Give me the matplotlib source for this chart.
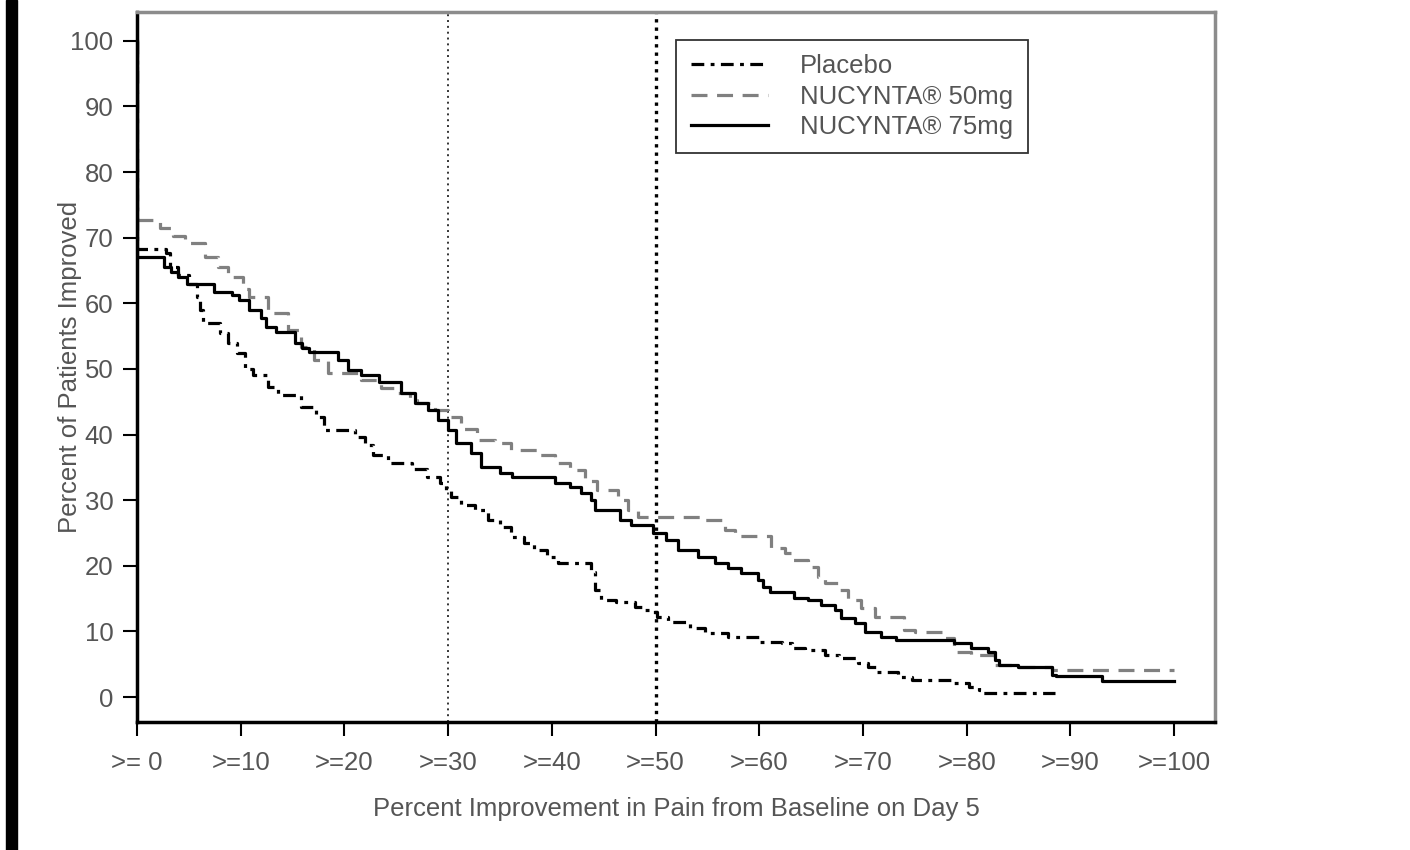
import matplotlib
matplotlib.use("Agg")
import matplotlib.pyplot as plt
from matplotlib.patches import Rectangle

plt.rcParams['font.family'] = ['Liberation Sans', 'DejaVu Sans']

# step curves: x where the value starts, value from there on
placebo_x = [0, 0, 2.8, 3.2, 4.0, 5.0, 5.8, 6.1, 6.4, 8.0, 8.8, 9.6, 10.4, 11.2, 12.6, 13.6,
             15.8, 17.3, 18.0, 21.0, 22.0, 22.8, 24.2, 26.5, 28.0, 29.2, 29.8, 30.3, 31.2,
             32.6, 33.8, 35.0, 36.1, 37.3, 38.3, 39.5, 40.6, 43.8, 44.2, 44.7, 46.2, 48.0,
             49.0, 49.8, 50.1, 51.2, 53.3, 54.8, 57.0, 60.0, 62.2, 63.2, 64.4, 66.3, 67.7,
             69.5, 70.5, 71.4, 73.4, 74.7, 78.5, 80.2, 81.2, 81.6, 88.5]
placebo_y = [100, 68.3, 67.6, 65.5, 64.3, 63.0, 61.0, 59.0, 57.0, 55.5, 54.0, 52.4, 50.0, 49.1,
             47.3, 46.0, 44.2, 42.7, 40.7, 39.6, 38.4, 36.9, 35.7, 34.8, 33.5, 32.6, 31.5,
             30.5, 29.3, 28.5, 27.0, 25.9, 24.4, 23.5, 22.4, 21.3, 20.4, 19.1, 16.3, 14.8,
             14.5, 13.7, 13.3, 13.0, 12.2, 11.4, 10.5, 9.8, 9.1, 8.4, 8.2, 7.5, 7.2, 6.4,
             5.9, 5.2, 4.6, 3.8, 3.0, 2.6, 2.1, 1.5, 1.1, 0.6, 0.6]

mg50_x = [0, 0, 2.2, 3.5, 4.6, 6.6, 7.8, 8.8, 10.2, 10.8, 12.6, 14.6, 15.8, 17.1, 18.4, 21.6,
          23.5, 24.8, 26.3, 27.0, 28.7, 30.0, 31.2, 32.8, 34.5, 36.1, 38.7, 40.3, 41.8, 43.2,
          44.4, 46.4, 47.3, 48.3, 54.5, 56.7, 57.7, 61.1, 62.5, 63.1, 64.7, 65.7, 66.3, 67.6,
          68.6, 69.8, 71.2, 74.0, 75.0, 77.8, 78.8, 80.4, 82.6, 85.0, 88.2, 100]
mg50_y = [100, 72.7, 71.5, 70.3, 69.2, 67.0, 65.5, 64.0, 62.2, 61.0, 58.5, 56.0, 53.4, 51.4,
          49.4, 48.3, 47.1, 46.3, 45.3, 44.8, 43.7, 42.7, 40.8, 39.2, 38.7, 37.7, 36.9, 35.7,
          34.6, 33.0, 31.6, 30.0, 28.5, 27.5, 27.0, 25.5, 24.6, 22.7, 21.9, 20.9, 19.8, 18.3,
          17.4, 16.3, 14.8, 13.5, 12.2, 10.2, 9.9, 9.0, 6.9, 6.4, 4.9, 4.6, 4.1, 4.1]

mg75_x = [0, 0, 2.6, 3.3, 4.0, 4.8, 7.4, 9.2, 9.8, 10.8, 12.0, 12.4, 13.4, 15.2, 15.9, 16.6,
          19.4, 20.3, 21.6, 23.3, 25.5, 26.8, 28.1, 29.0, 30.0, 30.8, 32.2, 33.2, 35.0, 36.2,
          40.3, 41.8, 42.8, 43.8, 44.2, 46.6, 47.6, 49.8, 51.0, 52.2, 54.1, 55.7, 57.0, 58.2,
          59.9, 60.4, 61.0, 63.4, 64.7, 66.0, 67.3, 67.9, 69.2, 70.2, 71.7, 73.2, 78.8, 80.4,
          82.1, 82.7, 83.1, 85.0, 88.2, 88.6, 93.1, 100]
mg75_y = [100, 67.0, 65.5, 64.8, 64.0, 63.0, 61.8, 61.3, 60.5, 59.0, 57.8, 56.4, 55.6, 54.0,
          53.2, 52.6, 51.4, 49.8, 49.1, 48.0, 46.3, 44.8, 43.7, 42.2, 40.7, 38.7, 37.2, 35.1,
          34.1, 33.5, 32.6, 32.0, 31.1, 30.0, 28.5, 27.0, 26.2, 25.0, 23.9, 22.4, 21.3, 20.4,
          19.7, 18.9, 17.8, 16.8, 16.0, 15.1, 14.8, 14.0, 13.3, 12.0, 11.3, 9.9, 9.1, 8.7,
          8.2, 7.5, 6.9, 5.6, 4.9, 4.6, 3.4, 3.2, 2.5, 2.5]

x_ticks = [0, 10, 20, 30, 40, 50, 60, 70, 80, 90, 100]
x_tick_labels = ['>= 0', '>=10', '>=20', '>=30', '>=40', '>=50', '>=60', '>=70', '>=80',
                 '>=90', '>=100']
y_ticks = [0, 10, 20, 30, 40, 50, 60, 70, 80, 90, 100]
ref_lines = [30, 50]

fs = 18.5

fig = plt.figure(figsize=(14.1, 8.5), dpi=100)
ax = fig.add_axes([137/1410, 1 - 722/850, (1215-137)/1410, (722-12)/850])

# black strip on the left edge of the picture
fig.patches.append(Rectangle((6/1410, 0), 11/1410, 1, transform=fig.transFigure,
                             color='black', zorder=0))

ax.axvline(ref_lines[0], color='#333333', linestyle=(0, (1, 2)), linewidth=1.4)
ax.axvline(ref_lines[1], color='black', linestyle=(0, (1, 1.5)), linewidth=2.4)

ax.plot(placebo_x, placebo_y, drawstyle='steps-post', color='black', linewidth=2.3,
        linestyle=(0, (4, 2, 1.2, 2)), label='Placebo')
ax.plot(mg50_x, mg50_y, drawstyle='steps-post', color='#808080', linewidth=2.3,
        linestyle=(0, (5, 3)), label='NUCYNTA® 50mg')
ax.plot(mg75_x, mg75_y, drawstyle='steps-post', color='black', linewidth=2.3,
        label='NUCYNTA® 75mg')

ax.set_xlim(0, 103.95)
ax.set_ylim(-3.8, 104.4)
ax.set_xticks(x_ticks)
ax.set_xticklabels(x_tick_labels)
ax.set_yticks(y_ticks)
ax.tick_params(axis='both', direction='out', length=10, width=1.5, color='black',
               labelsize=fs, labelcolor='#555555')
ax.tick_params(axis='x', pad=11)
ax.tick_params(axis='y', pad=7)

for side in ['left', 'bottom']:
    ax.spines[side].set_color('black')
    ax.spines[side].set_linewidth(2.5)
for side in ['top', 'right']:
    ax.spines[side].set_color('#8c8c8c')
    ax.spines[side].set_linewidth(2.5)

ax.set_xlabel('Percent Improvement in Pain from Baseline on Day 5', fontsize=fs,
              color='#555555', va='top')
ax.xaxis.set_label_coords(0.5, -0.106)
ax.set_ylabel('Percent of Patients Improved', fontsize=fs, color='#555555')
ax.yaxis.set_label_coords(-0.051, 0.5)

leg = ax.legend(loc='upper left', bbox_to_anchor=(0.5, 0.961), borderaxespad=0,
                fontsize=fs, frameon=True, fancybox=False, edgecolor='black',
                handlelength=3.0, handletextpad=1.25, labelspacing=0.24,
                borderpad=0.57)
leg.get_frame().set_linewidth(1.3)
for t in leg.get_texts():
    t.set_color('#555555')

fig.savefig('out.png', dpi=100)
